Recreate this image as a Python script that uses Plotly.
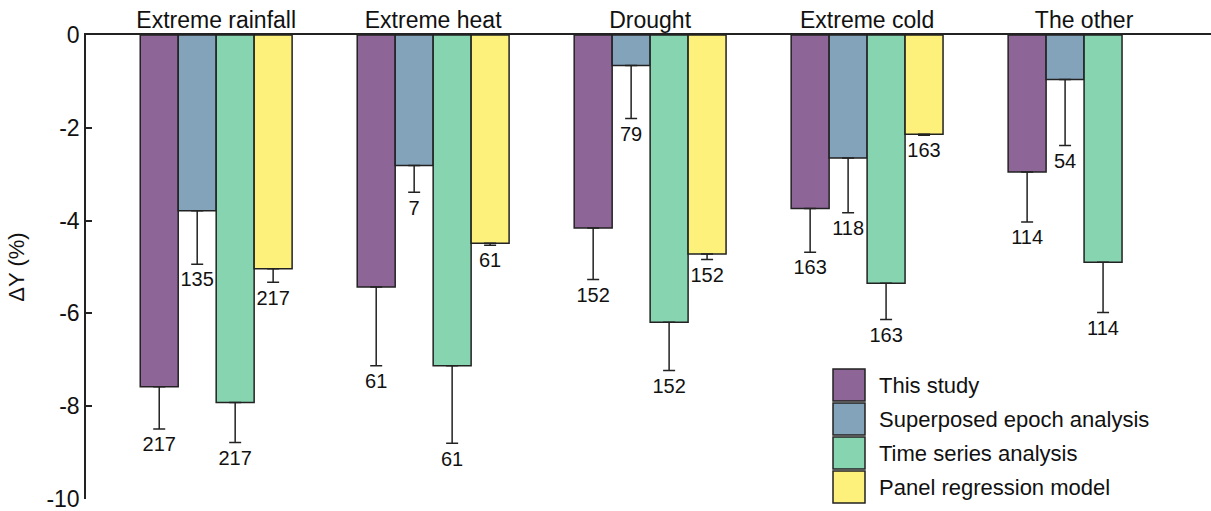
import plotly.graph_objects as go

# Hazard categories and the four estimation methods
categories = ["Extreme rainfall", "Extreme heat", "Drought", "Extreme cold", "The other"]
methods = ["This study", "Superposed epoch analysis", "Time series analysis", "Panel regression model"]

# Yield change ΔY (%) per method, with one-sided error and sample counts
this_study = [-7.58, -5.43, -4.16, -3.74, -2.95]
this_study_err = [0.91, 1.70, 1.11, 0.94, 1.08]
this_study_n = [217, 61, 152, 163, 114]

superposed = [-3.79, -2.81, -0.66, -2.65, -0.96]
superposed_err = [1.15, 0.58, 1.14, 1.18, 1.42]
superposed_n = [135, 7, 79, 118, 54]

time_series = [-7.92, -7.13, -6.19, -5.35, -4.90]
time_series_err = [0.86, 1.67, 1.04, 0.78, 1.08]
time_series_n = [217, 61, 152, 163, 114]

panel = [-5.04, -4.49, -4.72, -2.14, None]
panel_err = [0.29, 0.04, 0.12, 0.02, None]
panel_n = [217, 61, 152, 163, None]

yticks = [0, -2, -4, -6, -8, -10]

colors = ["#8E6597", "#83A3BB", "#86D4B0", "#FDF07B"]
edge = "#222222"
ink = "#111111"
font_family = "Arial, Liberation Sans, sans-serif"

series = [
    (this_study, this_study_err, this_study_n),
    (superposed, superposed_err, superposed_n),
    (time_series, time_series_err, time_series_n),
    (panel, panel_err, panel_n),
]

fig = go.Figure()

for k, (name, color, (vals, errs, counts)) in enumerate(zip(methods, colors, series)):
    fig.add_trace(go.Bar(
        x=categories, y=vals, name=name,
        marker=dict(color=color, line=dict(color=edge, width=1.5)),
        error_y=dict(type="data", symmetric=False,
                     array=[0 if e is not None else None for e in errs],
                     arrayminus=errs, color=edge, thickness=1.5, width=6),
        offsetgroup=str(k), showlegend=False,
    ))

# Sample counts written beneath each error bar
for k, (vals, errs, counts) in enumerate(series):
    ends = [v - e if v is not None else None for v, e in zip(vals, errs)]
    fig.add_trace(go.Scatter(
        x=categories, y=ends, mode="markers+text",
        marker=dict(size=10, opacity=0),
        text=[str(c) if c is not None else "" for c in counts],
        textposition="bottom center",
        textfont=dict(size=20, color=ink, family=font_family),
        offsetgroup=str(k), showlegend=False, hoverinfo="skip",
    ))

# Hand-drawn legend with large square swatches
L, T, W, H = 86, 35, 1125, 464
def px_x(p):
    return (p - L) / W
def px_y(p):
    return (T + H - p) / H

shapes = []
annotations = []
box_left, box_size, row_top = 833, 32, 369
for k, (name, color) in enumerate(zip(methods, colors)):
    top = row_top + k * (box_size + 2)
    shapes.append(dict(type="rect", xref="paper", yref="paper",
                       x0=px_x(box_left), x1=px_x(box_left + box_size),
                       y0=px_y(top + box_size), y1=px_y(top),
                       fillcolor=color, line=dict(color=edge, width=1.5)))
    annotations.append(dict(xref="paper", yref="paper",
                            x=px_x(877), y=px_y(top + box_size / 2),
                            xanchor="left", yanchor="middle", showarrow=False,
                            text=name, font=dict(size=22, color=ink, family=font_family)))

fig.update_layout(
    width=1211, height=511,
    margin=dict(l=L, r=0, t=T, b=511 - T - H),
    paper_bgcolor="white", plot_bgcolor="white",
    barmode="group", bargap=0.3, bargroupgap=0,
    scattermode="group", scattergap=0.3,
    font=dict(family=font_family, color=ink),
    shapes=shapes, annotations=annotations,
    xaxis=dict(side="top", range=[-0.6, 4.585], showline=True, linecolor=edge,
               linewidth=1.5, ticks="", showgrid=False, zeroline=False,
               ticklabelstandoff=-4,
               tickfont=dict(size=23, family=font_family, color=ink)),
    yaxis=dict(range=[-10, 0], tickvals=yticks, ticktext=[str(v) for v in yticks],
               showline=True, linecolor=edge, linewidth=1.5, ticks="inside",
               ticklen=6, tickcolor=edge, tickwidth=1.5, showgrid=False, zeroline=False,
               ticklabeloverflow="allow",
               tickfont=dict(size=23, family=font_family, color=ink),
               title=dict(text="ΔY (%)", font=dict(size=22, family=font_family, color=ink),
                          standoff=16)),
)

fig.write_html("out.html")
